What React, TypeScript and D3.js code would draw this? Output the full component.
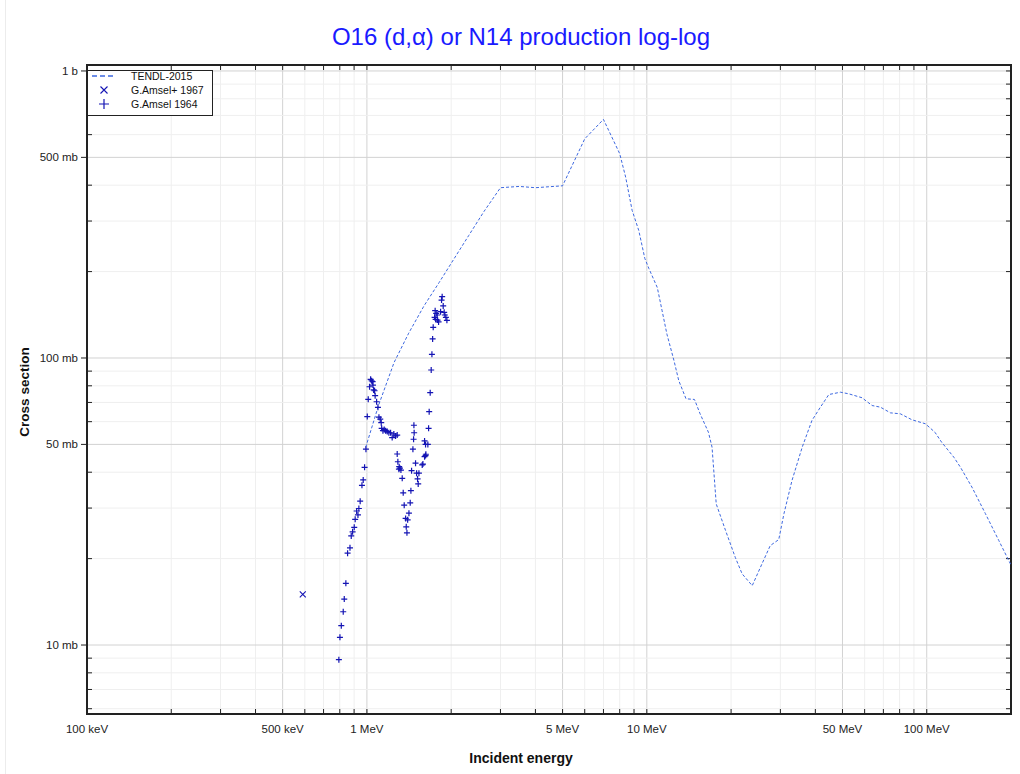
import React from "react";
import * as d3 from "d3";

// TENDL-2015 evaluated curve: energy (MeV), cross section (mb)
const tendlE = [0.99, 1.10, 1.25, 1.41, 1.60, 1.81, 2.05, 2.31, 2.62, 3.0, 3.5, 4.0, 5.0, 6.0, 7.0, 8.0, 8.4, 8.86, 9.36, 9.84, 10.17, 10.9, 11.34, 11.8, 12.5, 13.0, 13.8, 14.8, 15.5, 16.6, 17.1, 17.7, 19.1, 20.7, 21.9, 23.8, 25.8, 27.6, 29.6, 30.9, 33.0, 35.9, 38.9, 41.7, 44.7, 49.2, 52.7, 58.7, 63.8, 68.3, 74.2, 80.5, 88.6, 98.9, 107, 113, 125, 132, 145, 162, 181, 200];
const tendlS = [48.8, 68.3, 96.4, 122, 152, 183, 222, 267, 324, 392, 396, 392, 398, 580, 678, 515, 427, 327, 278, 222, 205, 176, 146, 121, 98, 83.5, 72.1, 71.7, 63.9, 55.1, 48.9, 31.0, 25.1, 20.2, 17.7, 16.1, 19.2, 22.2, 23.3, 28.7, 37.4, 48.9, 60.6, 67.4, 74.6, 76.0, 75.0, 72.7, 68.3, 67.4, 64.4, 63.9, 60.9, 59.0, 55.1, 50.9, 45.1, 41.6, 35.5, 28.7, 23.1, 19.0];

// G.Amsel+ 1967
const amsel67E = [0.59];
const amsel67S = [15.0];

// G.Amsel 1964
const amsel64E = [0.794, 0.801, 0.810, 0.823, 0.830, 0.841, 0.853, 0.870, 0.879, 0.889, 0.901, 0.908, 0.929, 0.919, 0.936, 0.946, 0.960, 0.970, 0.981, 0.992, 1.003, 1.011, 1.022, 1.031, 1.039, 1.048, 1.051, 1.057, 1.065, 1.070, 1.083, 1.095, 1.104, 1.116, 1.125, 1.129, 1.141, 1.153, 1.166, 1.182, 1.198, 1.215, 1.231, 1.248, 1.266, 1.283, 1.283, 1.290, 1.304, 1.312, 1.323, 1.301, 1.337, 1.348, 1.359, 1.375, 1.382, 1.390, 1.398, 1.413, 1.428, 1.436, 1.444, 1.460, 1.468, 1.475, 1.472, 1.492, 1.505, 1.517, 1.525, 1.534, 1.576, 1.585, 1.607, 1.620, 1.624, 1.607, 1.620, 1.651, 1.661, 1.669, 1.683, 1.697, 1.707, 1.717, 1.725, 1.745, 1.753, 1.768, 1.783, 1.760, 1.788, 1.803, 1.833, 1.848, 1.857, 1.873, 1.888, 1.899, 1.915, 1.931];
const amsel64S = [8.89, 10.64, 11.68, 13.06, 14.46, 16.4, 20.9, 21.8, 24.0, 24.8, 25.7, 27.4, 28.4, 29.3, 29.9, 31.7, 36.0, 37.6, 41.6, 48.1, 62.5, 71.8, 79.4, 84.3, 83.3, 82.7, 80.5, 77.4, 76.9, 73.9, 70.4, 67.3, 62.2, 61.2, 59.5, 56.9, 55.8, 56.4, 55.8, 55.4, 54.9, 54.9, 52.8, 54.4, 53.5, 53.9, 46.3, 43.5, 41.8, 41.3, 40.7, 41.0, 38.1, 33.9, 30.7, 27.6, 25.8, 24.6, 27.3, 28.8, 31.3, 34.5, 40.5, 48.1, 52.1, 54.9, 58.3, 43.0, 39.7, 37.9, 36.4, 39.7, 42.4, 42.7, 45.3, 45.7, 46.2, 51.4, 50.0, 50.0, 56.9, 65.0, 75.7, 90.8, 103.0, 116.5, 127.9, 138.6, 146.2, 143.1, 141.2, 136.4, 135.6, 133.5, 145.0, 159.2, 163.5, 151.8, 144.3, 141.2, 138.6, 135.3];

const xTickVals = [0.1, 0.5, 1, 5, 10, 50, 100];
const xTickLabels = ["100 keV", "500 keV", "1 MeV", "5 MeV", "10 MeV", "50 MeV", "100 MeV"];
const yTickVals = [1000, 500, 100, 50, 10];
const yTickLabels = ["1 b", "500 mb", "100 mb", "50 mb", "10 mb"];

const legendNames = ["TENDL-2015", "G.Amsel+ 1967", "G.Amsel 1964"];

const W = 1020, H = 774;
const L = 87, R = 1011, T = 65, B = 714;
const FONT = "'Liberation Sans', Arial, sans-serif";
const LINE_C = "#3d68e0";
const MARK_C = "#1414b4";

function logTicks(lo: number, hi: number) {
  const out: { v: number; major: boolean }[] = [];
  for (let e = -2; e <= 4; e++) {
    for (let k = 1; k <= 9; k++) {
      const v = k * Math.pow(10, e);
      if (v >= lo * 0.9999 && v <= hi * 1.0001) out.push({ v, major: k === 1 || k === 5 });
    }
  }
  return out;
}

export default function App() {
  const x = d3.scaleLog().domain([0.1, 200]).range([L, R]);
  const y = d3.scaleLog().domain([5.75, 1049]).range([B, T]);
  const xt = logTicks(0.1, 200);
  const yt = logTicks(5.75, 1049);

  const line = d3
    .line<number>()
    .x((_, i) => x(tendlE[i]))
    .y((_, i) => y(tendlS[i]));

  const plus = (cx: number, cy: number, s: number, key: string) => (
    <path key={key} d={`M${cx - s},${cy}H${cx + s}M${cx},${cy - s}V${cy + s}`} stroke={MARK_C} strokeWidth={1.2} fill="none" />
  );
  const cross = (cx: number, cy: number, s: number, key: string) => (
    <path key={key} d={`M${cx - s},${cy - s}L${cx + s},${cy + s}M${cx - s},${cy + s}L${cx + s},${cy - s}`} stroke={MARK_C} strokeWidth={1.1} fill="none" />
  );

  return (
    <svg width={W} height={H} style={{ position: "absolute", left: 0, top: 0, background: "#fff" }} fontFamily={FONT}>
      <line x1={5.5} x2={5.5} y1={0} y2={H} stroke="#ececec" />
      <text x={521} y={45} textAnchor="middle" fontSize={24} fill="#1a1aff">
        O16 (d,α) or N14 production log-log
      </text>

      {/* grid */}
      <clipPath id="plotclip">
        <rect x={L} y={T} width={R - L} height={B - T} />
      </clipPath>
      {xt.map((t, i) => (
        <line key={"gx" + i} x1={x(t.v)} x2={x(t.v)} y1={T} y2={B} stroke={t.major ? "#d2d2d2" : "#efefef"} strokeWidth={1} />
      ))}
      {yt.map((t, i) => (
        <line key={"gy" + i} x1={L} x2={R} y1={y(t.v)} y2={y(t.v)} stroke={t.major ? "#d2d2d2" : "#efefef"} strokeWidth={1} />
      ))}

      {/* ticks */}
      {xt.map((t, i) => (
        <g key={"tx" + i}>
          <line x1={x(t.v)} x2={x(t.v)} y1={B} y2={B - 5} stroke="#222" />
          <line x1={x(t.v)} x2={x(t.v)} y1={T} y2={T + 5} stroke="#222" />
        </g>
      ))}
      {yt.map((t, i) => (
        <g key={"ty" + i}>
          {yTickVals.includes(t.v) ? (
            <line x1={L - 6} x2={L} y1={y(t.v)} y2={y(t.v)} stroke="#222" />
          ) : (
            <line x1={L} x2={L + 5} y1={y(t.v)} y2={y(t.v)} stroke="#222" />
          )}
          <line x1={R} x2={R - 5} y1={y(t.v)} y2={y(t.v)} stroke="#222" />
        </g>
      ))}

      {/* frame */}
      <rect x={L} y={T} width={R - L} height={B - T} fill="none" stroke="#222" strokeWidth={2} />

      {/* tick labels */}
      {xTickVals.map((v, i) => (
        <text key={"xl" + i} x={x(v)} y={733} textAnchor="middle" fontSize={11.5} fill="#222">
          {xTickLabels[i]}
        </text>
      ))}
      {yTickVals.map((v, i) => (
        <text key={"yl" + i} x={L - 9} y={y(v) + 4} textAnchor="end" fontSize={11.5} fill="#222">
          {yTickLabels[i]}
        </text>
      ))}

      <text x={521} y={763} textAnchor="middle" fontSize={14} fontWeight="bold" fill="#111">
        Incident energy
      </text>
      <text transform={`translate(29,392) rotate(-90)`} textAnchor="middle" fontSize={13.5} fontWeight="bold" fill="#111">
        Cross section
      </text>

      {/* data */}
      <g clipPath="url(#plotclip)">
        <path d={line(tendlE) || ""} fill="none" stroke={LINE_C} strokeWidth={1} strokeDasharray="3,2" />
        {amsel67E.map((e, i) => cross(x(e), y(amsel67S[i]), 3, "c" + i))}
        {amsel64E.map((e, i) => plus(x(e), y(amsel64S[i]), 3, "p" + i))}
      </g>

      {/* legend */}
      <rect x={87.5} y={70.5} width={125} height={45} fill="#fff" stroke="#222" strokeWidth={1} />
      <line x1={92} x2={116} y1={76} y2={76} stroke={LINE_C} strokeWidth={1.6} strokeDasharray="5,3" />
      {cross(104, 90, 3.5, "lc")}
      {plus(104, 104, 5, "lp")}
      {legendNames.map((n, i) => (
        <text key={"ln" + i} x={131} y={80 + i * 14} fontSize={10.5} fill="#111">
          {n}
        </text>
      ))}
    </svg>
  );
}
